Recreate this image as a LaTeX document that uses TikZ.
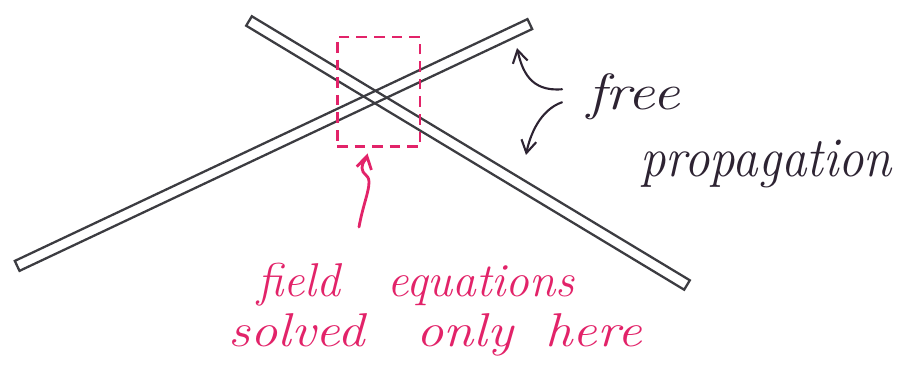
\documentclass[tikz,border=0pt]{standalone}
\usepackage{graphicx}
\usetikzlibrary{positioning, arrows.meta, calc}

\definecolor{inkpink}{RGB}{226,35,105}
\definecolor{inkblack}{RGB}{45,35,50}
\definecolor{barink}{RGB}{60,60,65}

% handwriting is stretched a little
\newcommand{\handstretch}[3]{\scalebox{#1}[#2]{#3}}

\begin{document}
\begin{tikzpicture}[
    x=0.02cm, y=-0.02cm,
    bar/.style={
        rectangle, draw=barink, line width=1.3pt,
        inner sep=0pt, minimum height=0.22cm
    },
    zonebox/.style={
        rectangle, draw=inkpink, line width=1.7pt,
        dash pattern=on 6pt off 4pt,
        minimum width=1.66cm, minimum height=2.2cm
    },
    hand/.style={
        inner sep=0pt, anchor=base west,
        font=\fontsize{27}{32}\selectfont\itshape
    },
    inkarrow/.style={
        line width=1.2pt, line cap=round,
        -{Straight Barb[length=2.5mm, width=3mm]}
    }
]
    \useasboundingbox (0,0) rectangle (906,374);

    % The two tubes ===========================
    \node[bar, minimum width=10.23cm, rotate=-31.08] (tubeA) at (468,153) {};
    \node[bar, minimum width=11.34cm, rotate=25.25] (tubeB) at (273.5,145) {};

    % Interaction region ======================
    \node[zonebox] (zone) at (378.5,92) {};

    % Labels ==================================
    \node[hand, text=inkpink] (fieldtxt) at (257,297)
        {field\hspace{0.94cm}equations};
    \node[hand, text=inkpink] (solvedtxt) at (228,347)
        {\handstretch{1.15}{1}{solved\hspace{0.9cm}only\hspace{0.56cm}here}};
    \node[hand, text=inkblack, font=\fontsize{29}{34}\selectfont\itshape] (freetxt) at (587,110)
        {\handstretch{1.2}{1}{free}};
    \node[hand, text=inkblack, font=\fontsize{29}{34}\selectfont\itshape] (proptxt) at (640,177)
        {\handstretch{1}{1.1}{propagation}};

    % Arrow ends on the tubes
    \coordinate (tipA) at (517,48);
    \coordinate (tipB) at (526,155);
    \coordinate (squig) at (359,227);

    % Pointers ================================
    % squiggle up to the box
    \draw[inkarrow, draw=inkpink, line width=1.6pt] (squig)
        .. controls (363,205) and (369,192) .. (369,182)
        .. controls (369,174) and (362,175) .. (362,168)
        .. controls (362,162) and (366,160) .. ([xshift=-0.22cm, yshift=-0.1cm]zone.south);

    % free propagation, both tubes
    \draw[inkarrow, draw=inkblack] ($(freetxt.west)+(-25,-8)$)
        .. controls (530,92) and (522,70) .. (tipA);
    \draw[inkarrow, draw=inkblack] ($(freetxt.west)+(-25,5)$)
        .. controls (540,110) and (530,135) .. (tipB);

\end{tikzpicture}
\end{document}
